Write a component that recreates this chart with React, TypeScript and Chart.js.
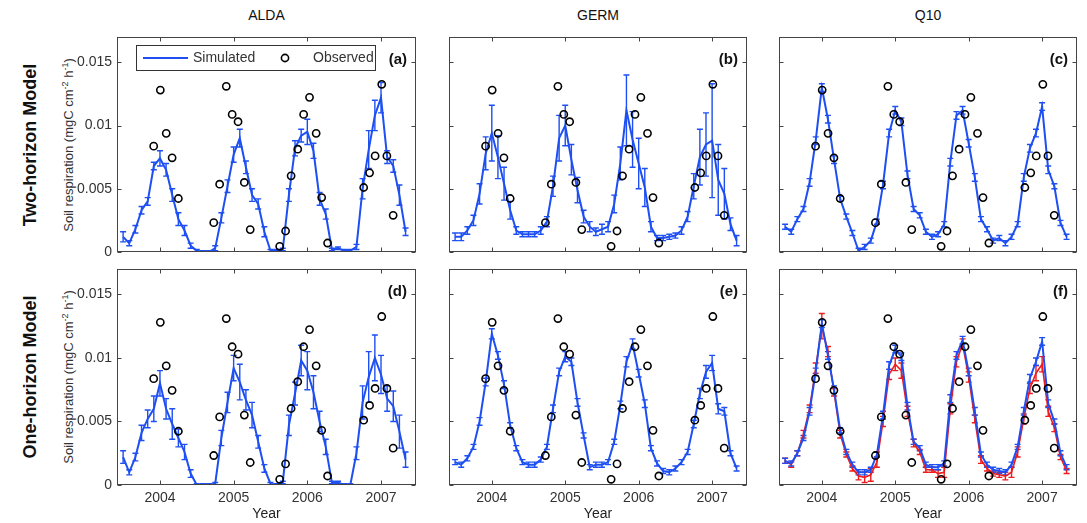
import React, { useEffect, useRef } from "react";
import { Chart, registerables } from "chart.js";

Chart.register(...registerables);

const FONT = '"Liberation Sans", Arial, Helvetica, sans-serif';
Chart.defaults.font.family = FONT;

// ---------- data ----------
const months = [
  "2003-07", "2003-08", "2003-09", "2003-10", "2003-11", "2003-12",
  "2004-01", "2004-02", "2004-03", "2004-04", "2004-05", "2004-06",
  "2004-07", "2004-08", "2004-09", "2004-10", "2004-11", "2004-12",
  "2005-01", "2005-02", "2005-03", "2005-04", "2005-05", "2005-06",
  "2005-07", "2005-08", "2005-09", "2005-10", "2005-11", "2005-12",
  "2006-01", "2006-02", "2006-03", "2006-04", "2006-05", "2006-06",
  "2006-07", "2006-08", "2006-09", "2006-10", "2006-11", "2006-12",
  "2007-01", "2007-02", "2007-03", "2007-04", "2007-05",
];

const yearTicks = [2004, 2005, 2006, 2007];
const yTicks = [0, 0.005, 0.01, 0.015];
const X_MIN = 2003.417;
const X_MAX = 2007.475;
const Y_MAX = 0.017;

const obsX = [
  2003.915, 2004.005, 2004.085, 2004.165, 2004.25,
  2004.73, 2004.81, 2004.9, 2004.98, 2005.06, 2005.145, 2005.225,
  2005.625, 2005.705, 2005.78, 2005.87, 2005.95, 2006.03, 2006.12, 2006.195, 2006.275,
  2006.765, 2006.845, 2006.92, 2007.01, 2007.08, 2007.165,
];
const obsY = [
  0.00837, 0.0128, 0.00938, 0.00745, 0.00423,
  0.00232, 0.00536, 0.0131, 0.01088, 0.0103, 0.0055, 0.00177,
  0.00045, 0.00166, 0.00602, 0.00813, 0.01088, 0.01223, 0.00938, 0.0043, 0.00071,
  0.0051, 0.00626, 0.0076, 0.01326, 0.0076, 0.0029,
];

// (a) ALDA two-horizon
const aSim = [0.0012, 0.0007, 0.0018, 0.0033, 0.004, 0.0068, 0.0074, 0.0065, 0.0045, 0.0026, 0.0017, 0.0005, 0.0001, 0.0, 0.0, 0.0003, 0.0027, 0.0052, 0.0077, 0.009, 0.0067, 0.0045, 0.0038, 0.0016, 0.0001, 0.0001, 0.0002, 0.0045, 0.0082, 0.0092, 0.0095, 0.008, 0.0042, 0.003, 0.0002, 0.0003, 0.0001, 0.0001, 0.0004, 0.005, 0.0081, 0.0108, 0.0122, 0.0075, 0.0068, 0.0045, 0.0016];
const aErr = [0.0004, 0.0002, 0.0003, 0.0003, 0.0003, 0.0003, 0.0006, 0.0005, 0.0005, 0.0005, 0.0004, 0.0002, 0.0001, 0.0001, 0.0001, 0.0002, 0.0004, 0.0005, 0.0006, 0.0007, 0.0005, 0.0005, 0.0004, 0.0004, 0.0001, 0.0001, 0.0001, 0.0005, 0.0006, 0.0005, 0.001, 0.0006, 0.0005, 0.0004, 0.0001, 0.0001, 0.0001, 0.0001, 0.0002, 0.0008, 0.0015, 0.0012, 0.0012, 0.0005, 0.0005, 0.0008, 0.0003];

// (b) GERM two-horizon
const bSim = [0.0012, 0.0012, 0.0017, 0.0025, 0.0046, 0.0078, 0.0094, 0.0075, 0.0054, 0.0033, 0.0017, 0.0014, 0.0014, 0.0014, 0.0017, 0.0024, 0.0052, 0.009, 0.01, 0.0073, 0.0049, 0.0028, 0.002, 0.0016, 0.0018, 0.002, 0.0038, 0.007, 0.0112, 0.0089, 0.007, 0.0051, 0.002, 0.0011, 0.0011, 0.0012, 0.0013, 0.0017, 0.0028, 0.0052, 0.0075, 0.0085, 0.0088, 0.0057, 0.0046, 0.0022, 0.0009];
const bErr = [0.0003, 0.0003, 0.0003, 0.0004, 0.0008, 0.0013, 0.0022, 0.0017, 0.0013, 0.0007, 0.0003, 0.0002, 0.0002, 0.0002, 0.0003, 0.0004, 0.0008, 0.0018, 0.0016, 0.0012, 0.001, 0.0005, 0.0004, 0.0003, 0.0004, 0.0004, 0.0007, 0.0013, 0.0028, 0.0022, 0.002, 0.0015, 0.0004, 0.0002, 0.0002, 0.0002, 0.0002, 0.0003, 0.0004, 0.001, 0.0022, 0.0025, 0.0045, 0.0028, 0.002, 0.0005, 0.0004];

// (c) Q10 two-horizon
const cSim = [0.002, 0.0016, 0.0026, 0.0034, 0.0055, 0.0088, 0.013, 0.0105, 0.0073, 0.0042, 0.0028, 0.0015, 0.0001, 0.0004, 0.0009, 0.0024, 0.0053, 0.0094, 0.0112, 0.0103, 0.0061, 0.0034, 0.0029, 0.0016, 0.0012, 0.0014, 0.0022, 0.0071, 0.0108, 0.0112, 0.0086, 0.0059, 0.0026, 0.0018, 0.0009, 0.0011, 0.0007, 0.0012, 0.0022, 0.0059, 0.0082, 0.0094, 0.0115, 0.0065, 0.0052, 0.0023, 0.0012];
const cErr = [0.0002, 0.0002, 0.0002, 0.0002, 0.0003, 0.0003, 0.0003, 0.0003, 0.0003, 0.0002, 0.0002, 0.0002, 0.0002, 0.0002, 0.0002, 0.0002, 0.0003, 0.0003, 0.0003, 0.0003, 0.0003, 0.0002, 0.0002, 0.0002, 0.0002, 0.0002, 0.0002, 0.0003, 0.0003, 0.0003, 0.0003, 0.0003, 0.0002, 0.0002, 0.0002, 0.0002, 0.0002, 0.0002, 0.0002, 0.0003, 0.0003, 0.0003, 0.0003, 0.0003, 0.0002, 0.0002, 0.0002];

// (d) ALDA one-horizon
const dSim = [0.0022, 0.001, 0.0022, 0.0041, 0.0052, 0.006, 0.008, 0.006, 0.0048, 0.0037, 0.0026, 0.0009, 0.0, 0.0, 0.0, 0.0001, 0.0037, 0.0065, 0.0092, 0.0081, 0.0067, 0.0055, 0.0034, 0.0013, 0.0001, 0.0, 0.0002, 0.0047, 0.0072, 0.0098, 0.009, 0.0073, 0.005, 0.003, 0.0002, 0.0002, 0.0, 0.0, 0.0025, 0.0065, 0.0085, 0.01, 0.0087, 0.0068, 0.0062, 0.0042, 0.002];
const dErr = [0.0005, 0.0002, 0.0003, 0.0006, 0.0007, 0.001, 0.001, 0.0008, 0.0012, 0.0007, 0.0006, 0.0003, 0.0001, 0.0001, 0.0001, 0.0001, 0.0006, 0.0008, 0.001, 0.0014, 0.0008, 0.001, 0.0005, 0.0003, 0.0001, 0.0001, 0.0001, 0.0008, 0.0009, 0.0012, 0.0015, 0.0013, 0.0008, 0.0006, 0.0001, 0.0001, 0.0001, 0.0001, 0.0005, 0.0013, 0.002, 0.0018, 0.0015, 0.001, 0.0012, 0.0013, 0.0006];

// (e) GERM one-horizon
const eSim = [0.0018, 0.0016, 0.0021, 0.003, 0.005, 0.0081, 0.0119, 0.0102, 0.0079, 0.0047, 0.0029, 0.0018, 0.0016, 0.0016, 0.002, 0.003, 0.006, 0.0089, 0.0101, 0.0097, 0.0065, 0.0039, 0.0014, 0.0016, 0.0016, 0.0018, 0.0034, 0.0063, 0.0097, 0.0111, 0.0088, 0.0064, 0.0029, 0.0017, 0.0011, 0.001, 0.0013, 0.0018, 0.0026, 0.0048, 0.0072, 0.0089, 0.0096, 0.006, 0.0058, 0.0025, 0.0013];
const eErr = [0.0002, 0.0002, 0.0002, 0.0002, 0.0003, 0.0003, 0.0004, 0.0003, 0.0003, 0.0002, 0.0002, 0.0002, 0.0002, 0.0002, 0.0002, 0.0002, 0.0003, 0.0003, 0.0004, 0.0003, 0.0003, 0.0002, 0.0002, 0.0002, 0.0002, 0.0002, 0.0002, 0.0003, 0.0004, 0.0004, 0.0003, 0.0003, 0.0002, 0.0002, 0.0002, 0.0002, 0.0002, 0.0002, 0.0002, 0.0003, 0.0004, 0.0005, 0.0006, 0.0004, 0.0003, 0.0002, 0.0002];

// (f) Q10 one-horizon (blue) and second run (red)
const fSim = [0.0019, 0.0017, 0.0025, 0.0037, 0.0058, 0.0089, 0.0127, 0.0102, 0.0075, 0.0043, 0.0026, 0.0016, 0.001, 0.001, 0.0012, 0.0024, 0.0055, 0.0094, 0.0107, 0.0101, 0.0062, 0.0034, 0.0029, 0.0016, 0.0014, 0.0014, 0.0017, 0.0068, 0.0102, 0.0114, 0.0089, 0.0058, 0.0024, 0.0016, 0.0012, 0.0011, 0.001, 0.0016, 0.003, 0.0058, 0.0084, 0.0097, 0.0113, 0.0064, 0.005, 0.0025, 0.0014];
const fErr = [0.0002, 0.0002, 0.0002, 0.0002, 0.0003, 0.0003, 0.0003, 0.0003, 0.0003, 0.0002, 0.0002, 0.0002, 0.0002, 0.0002, 0.0002, 0.0002, 0.0003, 0.0003, 0.0003, 0.0003, 0.0003, 0.0002, 0.0002, 0.0002, 0.0002, 0.0002, 0.0002, 0.0003, 0.0003, 0.0003, 0.0003, 0.0003, 0.0002, 0.0002, 0.0002, 0.0002, 0.0002, 0.0002, 0.0002, 0.0003, 0.0003, 0.0003, 0.0003, 0.0003, 0.0002, 0.0002, 0.0002];
const fRed = [0.0019, 0.0016, 0.0025, 0.004, 0.006, 0.0092, 0.0125, 0.0105, 0.0073, 0.004, 0.0024, 0.0013, 0.0007, 0.0006, 0.0008, 0.0018, 0.005, 0.0087, 0.0095, 0.009, 0.0058, 0.0033, 0.0026, 0.0012, 0.0012, 0.0009, 0.001, 0.006, 0.0097, 0.0111, 0.0085, 0.0052, 0.002, 0.0013, 0.0009, 0.0008, 0.0007, 0.001, 0.0026, 0.0052, 0.0076, 0.0088, 0.0095, 0.0058, 0.0045, 0.0022, 0.0011];
const fRedErr = [0.0002, 0.0002, 0.0002, 0.0003, 0.0003, 0.0004, 0.001, 0.0004, 0.0003, 0.0003, 0.0002, 0.0002, 0.0003, 0.0004, 0.0005, 0.0004, 0.0004, 0.0004, 0.0005, 0.0006, 0.0004, 0.0003, 0.0002, 0.0002, 0.0002, 0.0003, 0.0004, 0.0004, 0.0004, 0.0004, 0.0004, 0.0003, 0.0003, 0.0002, 0.0002, 0.0002, 0.0003, 0.0004, 0.0004, 0.0004, 0.0004, 0.0006, 0.0006, 0.0004, 0.0003, 0.0002, 0.0002];

// ---------- styling / layout ----------
const BLUE = "#1d4ff2";
const RED = "#ee1c1c";
const FRAME = "#444";
const COL_L = [117, 449, 779];
const COL_R = [416, 747, 1077];
const ROW_T = [37, 269];
const ROW_B = [252, 485];
const AXW = 67;

const monthX = months.map((m) => {
  const [yy, mm] = m.split("-").map(Number);
  return yy + (mm - 1) / 12;
});

type Series = { y: number[]; e: number[]; color: string; width: number };
type PanelCfg = { id: string; label: string; col: number; row: number; series: Series[]; legend?: boolean };

const panels: PanelCfg[] = [
  { id: "a", label: "(a)", col: 0, row: 0, legend: true, series: [{ y: aSim, e: aErr, color: BLUE, width: 2 }] },
  { id: "b", label: "(b)", col: 1, row: 0, series: [{ y: bSim, e: bErr, color: BLUE, width: 2 }] },
  { id: "c", label: "(c)", col: 2, row: 0, series: [{ y: cSim, e: cErr, color: BLUE, width: 2 }] },
  { id: "d", label: "(d)", col: 0, row: 1, series: [{ y: dSim, e: dErr, color: BLUE, width: 2 }] },
  { id: "e", label: "(e)", col: 1, row: 1, series: [{ y: eSim, e: eErr, color: BLUE, width: 2 }] },
  {
    id: "f", label: "(f)", col: 2, row: 1,
    series: [
      { y: fSim, e: fErr, color: BLUE, width: 2 },
      { y: fRed, e: fRedErr, color: RED, width: 1.6 },
    ],
  },
];

function makePlugin(cfg: PanelCfg) {
  return {
    id: "frame_" + cfg.id,
    beforeDatasetsDraw(chart: any) {
      const { ctx, chartArea: a, scales } = chart;
      const x = scales.x, y = scales.y;
      ctx.save();
      ctx.beginPath();
      ctx.rect(a.left, a.top - 2, a.right - a.left, a.bottom - a.top + 2);
      ctx.clip();
      const list = [...cfg.series].reverse();
      for (const s of list) {
        ctx.strokeStyle = s.color;
        ctx.lineWidth = 1.4;
        ctx.beginPath();
        monthX.forEach((mx, i) => {
          const px = x.getPixelForValue(mx);
          const y1 = y.getPixelForValue(s.y[i] - s.e[i]);
          const y2 = y.getPixelForValue(s.y[i] + s.e[i]);
          ctx.moveTo(px, y1);
          ctx.lineTo(px, y2);
          ctx.moveTo(px - 3, y1);
          ctx.lineTo(px + 3, y1);
          ctx.moveTo(px - 3, y2);
          ctx.lineTo(px + 3, y2);
        });
        ctx.stroke();
      }
      ctx.restore();
    },
    afterDraw(chart: any) {
      const { ctx, chartArea: a, scales } = chart;
      const x = scales.x, y = scales.y;
      const l = Math.round(a.left) + 0.5;
      const r = Math.round(a.right) - 0.5;
      const t = Math.round(a.top) + 0.5;
      const b = Math.round(a.bottom) - 0.5;
      ctx.save();
      ctx.strokeStyle = FRAME;
      ctx.lineWidth = 1;
      ctx.strokeRect(l, t, r - l, b - t);
      ctx.beginPath();
      for (const yr of yearTicks) {
        const px = Math.round(x.getPixelForValue(yr)) + 0.5;
        ctx.moveTo(px, b);
        ctx.lineTo(px, b - 4);
        ctx.moveTo(px, t);
        ctx.lineTo(px, t + 4);
      }
      for (const v of yTicks) {
        const py = Math.round(y.getPixelForValue(v)) + 0.5;
        ctx.moveTo(l, py);
        ctx.lineTo(l + 4, py);
        ctx.moveTo(r, py);
        ctx.lineTo(r - 4, py);
      }
      ctx.stroke();

      ctx.fillStyle = "#111";
      ctx.font = `bold 15px ${FONT}`;
      ctx.textAlign = "right";
      ctx.textBaseline = "middle";
      ctx.fillText(cfg.label, a.right - 9, a.top + 23);

      if (cfg.legend) {
        const bx = Math.round(a.left) + 19.5;
        const by = Math.round(a.top) + 8.5;
        const bw = 239, bh = 25;
        ctx.fillStyle = "#fff";
        ctx.fillRect(bx, by, bw, bh);
        ctx.strokeStyle = "#333";
        ctx.lineWidth = 1;
        ctx.strokeRect(bx, by, bw, bh);
        const my = by + bh / 2;
        ctx.strokeStyle = BLUE;
        ctx.lineWidth = 2;
        ctx.beginPath();
        ctx.moveTo(a.left + 26, my);
        ctx.lineTo(a.left + 71, my);
        ctx.stroke();
        ctx.fillStyle = "#333";
        ctx.font = `14px ${FONT}`;
        ctx.textAlign = "left";
        ctx.textBaseline = "middle";
        ctx.fillText("Simulated", a.left + 76, my + 0.5);
        ctx.fillText("Observed", a.left + 196, my + 0.5);
        ctx.strokeStyle = "#000";
        ctx.lineWidth = 1.6;
        ctx.beginPath();
        ctx.arc(a.left + 168, my, 3.6, 0, Math.PI * 2);
        ctx.stroke();
      }
      ctx.restore();
    },
  };
}

function Panel({ cfg }: { cfg: PanelCfg }) {
  const ref = useRef<HTMLCanvasElement>(null);
  const { col, row } = cfg;
  const L = COL_L[col], R = COL_R[col], T = ROW_T[row], B = ROW_B[row];
  const showX = row === 1;
  const showY = col === 0;
  const padL = showY ? 80 : 20;
  const padR = 8;
  const padT = 20;
  const padB = showX ? 523 - B : 15;
  const left = L - padL;
  const top = T - padT;
  const width = R + padR - left;
  const height = B + padB - top;

  useEffect(() => {
    if (!ref.current) return;
    const datasets: any[] = [
      {
        type: "line",
        data: obsX.map((xv, i) => ({ x: xv, y: obsY[i] })),
        showLine: false,
        pointRadius: 3.6,
        pointBorderWidth: 1.6,
        pointBorderColor: "#000",
        pointBackgroundColor: "rgba(0,0,0,0)",
        pointHoverRadius: 3.6,
      },
    ];
    for (const s of cfg.series) {
      datasets.push({
        type: "line",
        data: monthX.map((xv, i) => ({ x: xv, y: s.y[i] })),
        borderColor: s.color,
        borderWidth: s.width,
        pointRadius: 0,
        tension: 0,
        fill: false,
      });
    }
    const chart = new Chart(ref.current, {
      type: "line",
      data: { datasets },
      options: {
        responsive: false,
        animation: false,
        events: [],
        layout: {
          padding: {
            left: showY ? padL - AXW : padL,
            right: padR,
            top: padT,
            bottom: showX ? 0 : padB,
          },
        },
        plugins: { legend: { display: false }, tooltip: { enabled: false } },
        scales: {
          x: {
            type: "linear",
            min: X_MIN,
            max: X_MAX,
            display: showX,
            grid: { display: false, drawTicks: false },
            border: { display: false },
            afterBuildTicks: (s: any) => {
              s.ticks = yearTicks.map((v) => ({ value: v }));
            },
            afterFit: (s: any) => {
              s.height = showX ? 523 - B : 0;
            },
            ticks: {
              padding: 5,
              color: "#333",
              font: { family: FONT, size: 14 },
              maxRotation: 0,
              autoSkip: false,
              callback: (v: any) => String(v),
            },
            title: {
              display: showX,
              text: "Year",
              color: "#222",
              font: { family: FONT, size: 14 },
              padding: { top: 0, bottom: 0 },
            },
          },
          y: {
            type: "linear",
            min: 0,
            max: Y_MAX,
            display: showY,
            grid: { display: false, drawTicks: false },
            border: { display: false },
            afterBuildTicks: (s: any) => {
              s.ticks = yTicks.map((v) => ({ value: v }));
            },
            afterFit: (s: any) => {
              s.width = showY ? AXW : 0;
            },
            ticks: {
              padding: 5,
              color: "#333",
              font: { family: FONT, size: 14 },
              callback: (v: any) => String(v),
            },
          },
        },
      } as any,
      plugins: [makePlugin(cfg)],
    });
    return () => chart.destroy();
  }, []);

  return (
    <canvas
      ref={ref}
      width={width}
      height={height}
      style={{ position: "absolute", left, top, width, height }}
    />
  );
}

const colTitles = ["ALDA", "GERM", "Q10"];
const rowTitles = ["Two-horizon Model", "One-horizon Model"];

export default function App() {
  return (
    <div
      style={{
        position: "fixed",
        left: 0,
        top: 0,
        width: 1087,
        height: 523,
        background: "#fff",
        overflow: "hidden",
        fontFamily: FONT,
      }}
    >
      {colTitles.map((t, i) => (
        <div
          key={t}
          style={{
            position: "absolute",
            left: (COL_L[i] + COL_R[i]) / 2,
            top: 15,
            transform: "translate(-50%, -50%)",
            fontSize: 14,
            color: "#111",
            whiteSpace: "nowrap",
          }}
        >
          {t}
        </div>
      ))}
      {rowTitles.map((t, i) => (
        <React.Fragment key={t}>
          <div
            style={{
              position: "absolute",
              left: 30,
              top: (ROW_T[i] + ROW_B[i]) / 2,
              transform: "translate(-50%, -50%) rotate(-90deg)",
              fontSize: 18,
              fontWeight: "bold",
              color: "#111",
              whiteSpace: "nowrap",
            }}
          >
            {t}
          </div>
          <div
            style={{
              position: "absolute",
              left: 67,
              top: (ROW_T[i] + ROW_B[i]) / 2,
              transform: "translate(-50%, -50%) rotate(-90deg)",
              fontSize: 13,
              color: "#333",
              whiteSpace: "nowrap",
              lineHeight: "16px",
            }}
          >
            Soil respiration (mgC cm<sup style={{ fontSize: 9 }}>-2</sup> h<sup style={{ fontSize: 9 }}>-1</sup>)
          </div>
        </React.Fragment>
      ))}
      {panels.map((p) => (
        <Panel key={p.id} cfg={p} />
      ))}
    </div>
  );
}
